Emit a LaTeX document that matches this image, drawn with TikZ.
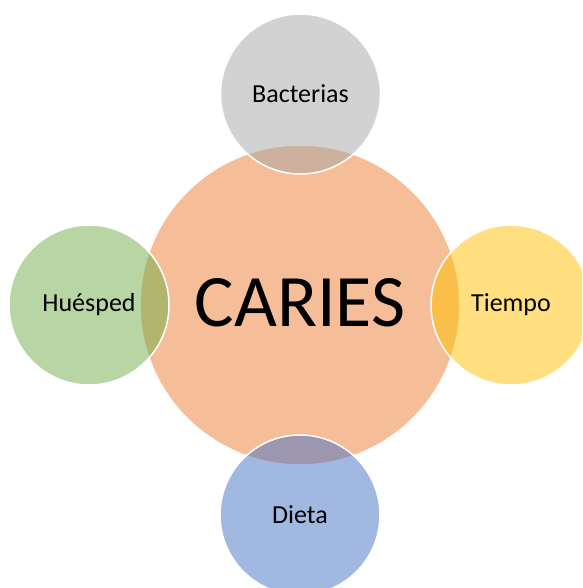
\documentclass[tikz,border=0pt]{standalone}
\usepackage{fontspec}
\setmainfont{Carlito}
\definecolor{offorange}{HTML}{ED7D31}
\definecolor{offgray}{HTML}{A5A5A5}
\definecolor{offgold}{HTML}{FFC000}
\definecolor{offblue}{HTML}{4472C4}
\definecolor{offgreen}{HTML}{70AD47}
\tikzset{
  bub/.style={circle, draw=white, line width=1.5pt, fill opacity=0.5, text opacity=1, inner sep=0pt},
  bigbub/.style={bub, minimum size=320pt},
  smallbub/.style={bub, minimum size=160pt},
  bigtxt/.style={font=\fontsize{74}{82}\selectfont},
  smalltxt/.style={font=\fontsize{26}{30}\selectfont},
}
\begin{document}
\begin{tikzpicture}[x=1pt,y=-1pt]
\useasboundingbox (0,0) rectangle (582,588);
\begin{scope}
\clip (0,0) rectangle (582,588);
\node[bigbub, fill=offorange] (caries) at (300,305) {};
\node[smallbub, fill=offgray] (bact) at (300.5,94) {};
\node[smallbub, fill=offgold] (tiempo) at (511,305) {};
\node[smallbub, fill=offblue] (dieta) at (300,515) {};
\node[smallbub, fill=offgreen] (huesped) at (89,305) {};
\end{scope}
\node[bigtxt] (tcaries) at ([yshift=2.5pt]caries.center) {CARIES};
\node[smalltxt] (tbact) at (bact.center) {Bacterias};
\node[smalltxt] (ttiempo) at (tiempo.center) {Tiempo};
\node[smalltxt] (tdieta) at (dieta.center) {Dieta};
\node[smalltxt] (thuesped) at (huesped.center) {Huésped};
\end{tikzpicture}
\end{document}
